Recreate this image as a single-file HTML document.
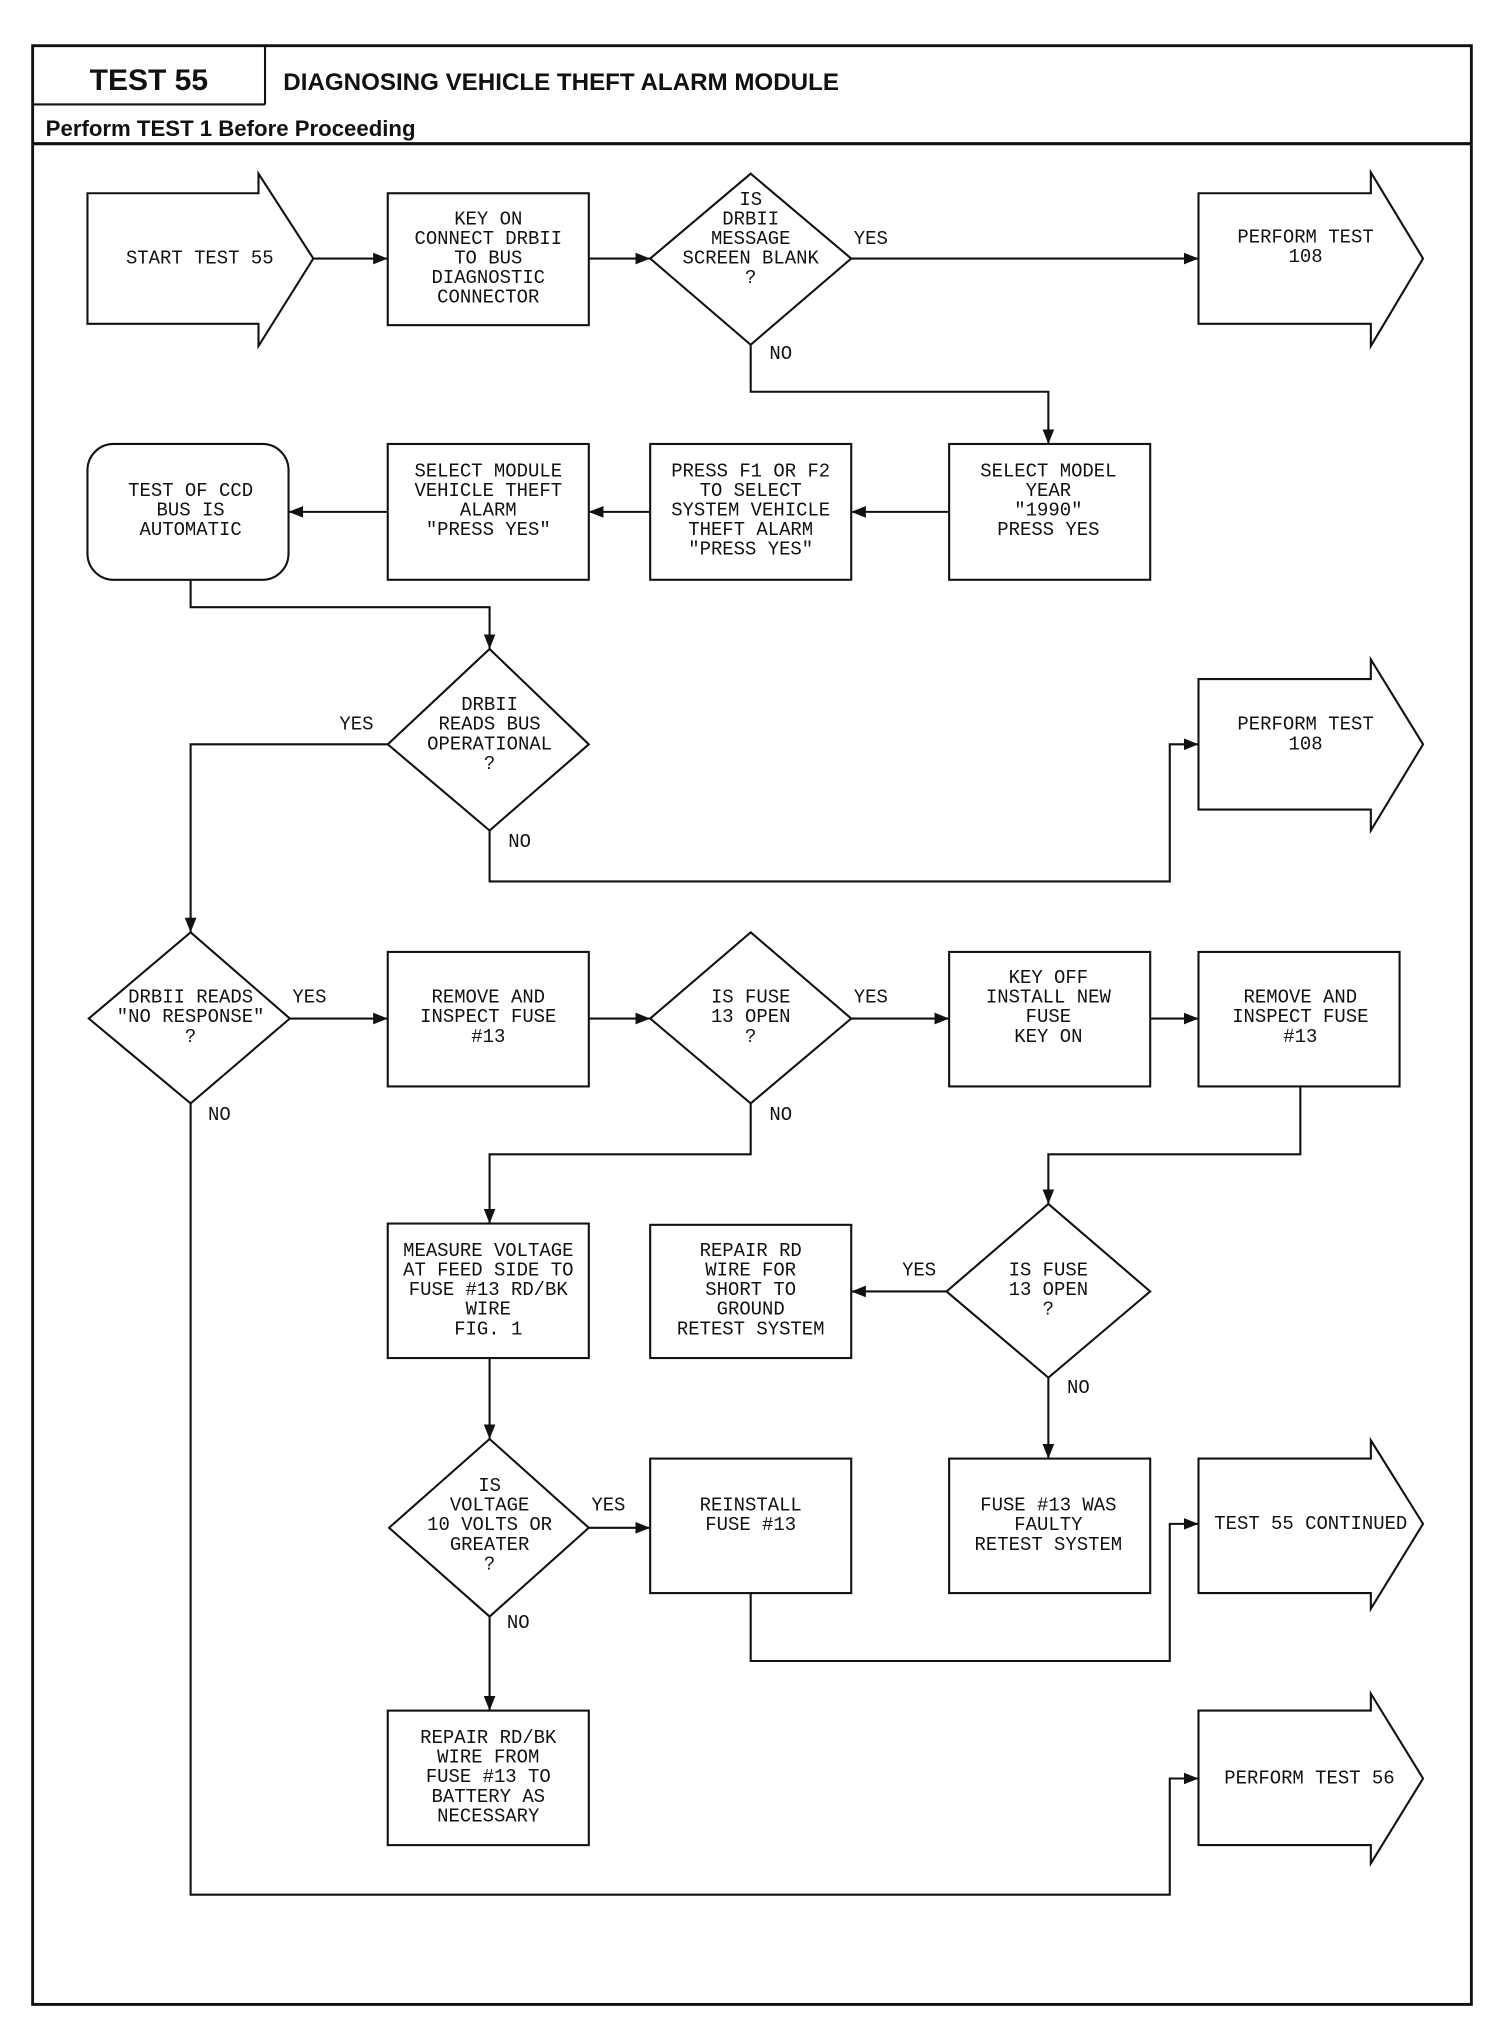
<!DOCTYPE html>
<html><head><meta charset="utf-8"><style>
html,body{margin:0;padding:0;background:#fff}
svg{display:block}
.t{font-family:"Liberation Mono",monospace;font-size:14.5px;fill:#111;text-anchor:middle;dominant-baseline:central}
.h{font-family:"Liberation Sans",sans-serif;font-weight:bold;fill:#111}
</style></head><body>
<svg width="1504" height="2024" viewBox="0 0 1152 1550" preserveAspectRatio="none" xmlns="http://www.w3.org/2000/svg">
<defs><marker id="a" viewBox="0 0 10 10" refX="10" refY="5" markerWidth="7" markerHeight="7" orient="auto"><path d="M0,1 L10,5 L0,9 z" fill="#111"/></marker></defs>
<g fill="none" stroke="#111" stroke-width="1.6">
<rect x="25" y="35" width="1102" height="1500" stroke-width="2.2"/>
<line x1="203" y1="35" x2="203" y2="80"/>
<line x1="25" y1="80" x2="203" y2="80"/>
<line x1="25" y1="110" x2="1127" y2="110" stroke-width="2.4"/>
<!-- big arrows -->
<path d="M67,148 H198 V133 L240,198 L198,265 V248 H67 Z"/>
<path d="M918,148 H1050 V132 L1090,198 L1050,265 V248 H918 Z"/>
<path d="M918,520 H1050 V505 L1090,570 L1050,636 V620 H918 Z"/>
<path d="M918,1117 H1050 V1103 L1090,1167 L1050,1232 V1220 H918 Z"/>
<path d="M918,1310 H1050 V1297 L1090,1362 L1050,1427 V1413 H918 Z"/>
<!-- boxes -->
<rect x="297" y="148" width="154" height="101"/>
<rect x="727" y="340" width="154" height="104"/>
<rect x="498" y="340" width="154" height="104"/>
<rect x="297" y="340" width="154" height="104"/>
<rect x="67" y="340" width="154" height="104" rx="20"/>
<rect x="297" y="729" width="154" height="103"/>
<rect x="727" y="729" width="154" height="103"/>
<rect x="918" y="729" width="154" height="103"/>
<rect x="297" y="937" width="154" height="103"/>
<rect x="498" y="938" width="154" height="102"/>
<rect x="498" y="1117" width="154" height="103"/>
<rect x="727" y="1117" width="154" height="103"/>
<rect x="297" y="1310" width="154" height="103"/>
<!-- diamonds -->
<path d="M575,133 L652,198 L575,264 L498,198 Z"/>
<path d="M375,497 L451,570 L375,636 L297,570 Z"/>
<path d="M146,714 L222,780 L146,845 L68,780 Z"/>
<path d="M575,714 L652,780 L575,845 L498,780 Z"/>
<path d="M803,922 L881,989 L803,1055 L725,989 Z"/>
<path d="M375,1102 L451,1170 L375,1238 L298,1170 Z"/>
<!-- connectors -->
<line x1="240" y1="198" x2="297" y2="198" marker-end="url(#a)"/>
<line x1="451" y1="198" x2="498" y2="198" marker-end="url(#a)"/>
<line x1="652" y1="198" x2="918" y2="198" marker-end="url(#a)"/>
<polyline points="575,264 575,300 803,300 803,340" marker-end="url(#a)"/>
<line x1="727" y1="392" x2="652" y2="392" marker-end="url(#a)"/>
<line x1="498" y1="392" x2="451" y2="392" marker-end="url(#a)"/>
<line x1="297" y1="392" x2="221" y2="392" marker-end="url(#a)"/>
<polyline points="146,444 146,465 375,465 375,497" marker-end="url(#a)"/>
<polyline points="297,570 146,570 146,714" marker-end="url(#a)"/>
<polyline points="375,636 375,675 896,675 896,570 918,570" marker-end="url(#a)"/>
<line x1="222" y1="780" x2="297" y2="780" marker-end="url(#a)"/>
<line x1="451" y1="780" x2="498" y2="780" marker-end="url(#a)"/>
<line x1="652" y1="780" x2="727" y2="780" marker-end="url(#a)"/>
<line x1="881" y1="780" x2="918" y2="780" marker-end="url(#a)"/>
<polyline points="146,845 146,1451 896,1451 896,1362 918,1362" marker-end="url(#a)"/>
<polyline points="575,845 575,884 375,884 375,937" marker-end="url(#a)"/>
<polyline points="996,832 996,884 803,884 803,922" marker-end="url(#a)"/>
<line x1="725" y1="989" x2="652" y2="989" marker-end="url(#a)"/>
<line x1="803" y1="1055" x2="803" y2="1117" marker-end="url(#a)"/>
<line x1="375" y1="1040" x2="375" y2="1102" marker-end="url(#a)"/>
<line x1="451" y1="1170" x2="498" y2="1170" marker-end="url(#a)"/>
<line x1="375" y1="1238" x2="375" y2="1310" marker-end="url(#a)"/>
<polyline points="575,1220 575,1272 896,1272 896,1167 918,1167" marker-end="url(#a)"/>
</g>
<text class="h" x="114" y="69" font-size="23" text-anchor="middle">TEST 55</text>
<text class="h" x="217" y="69" font-size="18.5">DIAGNOSING VEHICLE THEFT ALARM MODULE</text>
<text class="h" x="35" y="104" font-size="17">Perform TEST 1 Before Proceeding</text>
<g class="t">
<text x="153" y="198">START TEST 55</text>
<text x="374" y="168">KEY ON</text><text x="374" y="183">CONNECT DRBII</text><text x="374" y="198">TO BUS</text><text x="374" y="213">DIAGNOSTIC</text><text x="374" y="228">CONNECTOR</text>
<text x="575" y="153">IS</text><text x="575" y="168">DRBII</text><text x="575" y="183">MESSAGE</text><text x="575" y="198">SCREEN BLANK</text><text x="575" y="213">?</text>
<text x="667" y="183">YES</text><text x="598" y="271">NO</text>
<text x="1000" y="182">PERFORM TEST</text><text x="1000" y="197">108</text>
<text x="803" y="361">SELECT MODEL</text><text x="803" y="376">YEAR</text><text x="803" y="391">"1990"</text><text x="803" y="406">PRESS YES</text>
<text x="575" y="361">PRESS F1 OR F2</text><text x="575" y="376">TO SELECT</text><text x="575" y="391">SYSTEM VEHICLE</text><text x="575" y="406">THEFT ALARM</text><text x="575" y="421">"PRESS YES"</text>
<text x="374" y="361">SELECT MODULE</text><text x="374" y="376">VEHICLE THEFT</text><text x="374" y="391">ALARM</text><text x="374" y="406">"PRESS YES"</text>
<text x="146" y="376">TEST OF CCD</text><text x="146" y="391">BUS IS</text><text x="146" y="406">AUTOMATIC</text>
<text x="375" y="540">DRBII</text><text x="375" y="555">READS BUS</text><text x="375" y="570">OPERATIONAL</text><text x="375" y="585">?</text>
<text x="273" y="555">YES</text><text x="398" y="645">NO</text>
<text x="1000" y="555">PERFORM TEST</text><text x="1000" y="570">108</text>
<text x="146" y="764">DRBII READS</text><text x="146" y="779">"NO RESPONSE"</text><text x="146" y="794">?</text>
<text x="237" y="764">YES</text><text x="168" y="854">NO</text>
<text x="374" y="764">REMOVE AND</text><text x="374" y="779">INSPECT FUSE</text><text x="374" y="794">#13</text>
<text x="575" y="764">IS FUSE</text><text x="575" y="779">13 OPEN</text><text x="575" y="794">?</text>
<text x="667" y="764">YES</text><text x="598" y="854">NO</text>
<text x="803" y="749">KEY OFF</text><text x="803" y="764">INSTALL NEW</text><text x="803" y="779">FUSE</text><text x="803" y="794">KEY ON</text>
<text x="996" y="764">REMOVE AND</text><text x="996" y="779">INSPECT FUSE</text><text x="996" y="794">#13</text>
<text x="374" y="958">MEASURE VOLTAGE</text><text x="374" y="973">AT FEED SIDE TO</text><text x="374" y="988">FUSE #13 RD/BK</text><text x="374" y="1003">WIRE</text><text x="374" y="1018">FIG. 1</text>
<text x="575" y="958">REPAIR RD</text><text x="575" y="973">WIRE FOR</text><text x="575" y="988">SHORT TO</text><text x="575" y="1003">GROUND</text><text x="575" y="1018">RETEST SYSTEM</text>
<text x="803" y="973">IS FUSE</text><text x="803" y="988">13 OPEN</text><text x="803" y="1003">?</text>
<text x="704" y="973">YES</text><text x="826" y="1063">NO</text>
<text x="375" y="1138">IS</text><text x="375" y="1153">VOLTAGE</text><text x="375" y="1168">10 VOLTS OR</text><text x="375" y="1183">GREATER</text><text x="375" y="1198">?</text>
<text x="466" y="1153">YES</text><text x="397" y="1243">NO</text>
<text x="575" y="1153">REINSTALL</text><text x="575" y="1168">FUSE #13</text>
<text x="803" y="1153">FUSE #13 WAS</text><text x="803" y="1168">FAULTY</text><text x="803" y="1183">RETEST SYSTEM</text>
<text x="1004" y="1167">TEST 55 CONTINUED</text>
<text x="374" y="1331">REPAIR RD/BK</text><text x="374" y="1346">WIRE FROM</text><text x="374" y="1361">FUSE #13 TO</text><text x="374" y="1376">BATTERY AS</text><text x="374" y="1391">NECESSARY</text>
<text x="1003" y="1362">PERFORM TEST 56</text>
</g>
</svg>
</body></html>
